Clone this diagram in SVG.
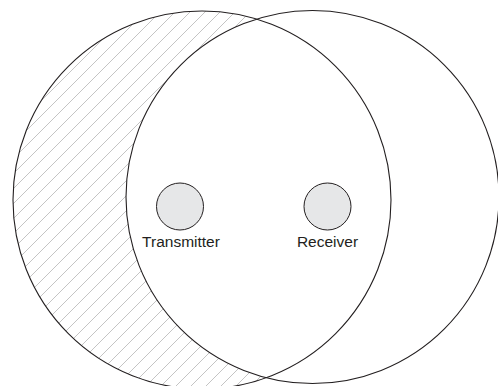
<svg xmlns="http://www.w3.org/2000/svg" width="498" height="386" viewBox="0 0 498 386">
  <style>
    .range { fill: none; stroke: #231f20; stroke-width: 1.1; }
    .dev { fill: #e6e7e8; stroke: #231f20; stroke-width: 1; }
    .lbl { font-family: "Liberation Sans", Arial, sans-serif; font-size: 15.5px; fill: #231f20; text-anchor: middle; }
    .hatch { stroke: #b5b5b5; stroke-width: 0.8; fill: none; }
  </style>
  <defs>
    <pattern id="hatch" patternUnits="userSpaceOnUse" width="15" height="15">
      <line class="hatch" x1="-2" y1="9" x2="9" y2="-2"/>
      <line class="hatch" x1="5" y1="17" x2="17" y2="5"/>
    </pattern>
    <mask id="onlyLeft" maskUnits="userSpaceOnUse" x="0" y="0" width="498" height="386">
      <circle cx="202" cy="200" r="189" fill="#fff"/>
      <circle cx="312.5" cy="197" r="186.5" fill="#000"/>
    </mask>
  </defs>
  <rect x="0" y="0" width="498" height="386" fill="#fff"/>
  <g id="hatched-region">
    <rect x="0" y="0" width="498" height="386" fill="url(#hatch)" mask="url(#onlyLeft)"/>
  </g>
  <g id="transmitter-range">
    <circle class="range" cx="202" cy="200" r="189" stroke-width="1.3"/>
  </g>
  <g id="receiver-range">
    <circle class="range" cx="312.5" cy="197" r="186.5"/>
  </g>
  <g id="transmitter">
    <circle class="dev" cx="180" cy="206.5" r="23.5"/>
    <text class="lbl" x="181" y="246.5">Transmitter</text>
  </g>
  <g id="receiver">
    <circle class="dev" cx="327.5" cy="206.5" r="23.5"/>
    <text class="lbl" x="327.5" y="246.5">Receiver</text>
  </g>
  <g id="connectors"/>
</svg>
